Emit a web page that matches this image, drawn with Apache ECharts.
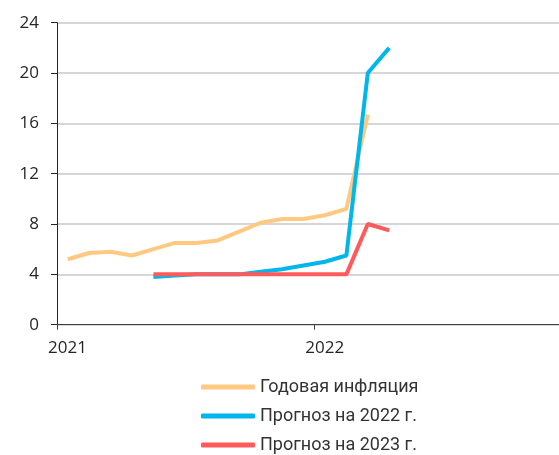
<!DOCTYPE html>
<html>
<head>
<meta charset="utf-8">
<script src="https://cdn.jsdelivr.net/npm/echarts@6/dist/echarts.min.js"></script>
<style>
  html, body { margin: 0; padding: 0; background: #fff; }
  #chart { width: 559px; height: 455px; }
</style>
</head>
<body>
<div id="chart"></div>
<script>
// months counted from Jan 2021 (0), points sit mid-month
var yearLabels = ["2021", "2022"];
var yTicks = [0, 4, 8, 12, 16, 20, 24];

// Jan 2021 .. Mar 2022
var inflationStart = 0;
var inflation = [5.2, 5.7, 5.8, 5.5, 6.0, 6.5, 6.5, 6.7, 7.4, 8.1, 8.4, 8.4, 8.7, 9.2, 16.7];

// May 2021 .. Apr 2022
var forecastStart = 4;
var forecast2022 = [3.8, 3.9, 4.0, 4.0, 4.0, 4.2, 4.4, 4.7, 5.0, 5.5, 20.0, 22.0];
var forecast2023 = [4.0, 4.0, 4.0, 4.0, 4.0, 4.0, 4.0, 4.0, 4.0, 4.0, 8.0, 7.5];

var seriesNames = ["Годовая инфляция", "Прогноз на 2022 г.", "Прогноз на 2023 г."];
var colors = ["#FFC982", "#00B6EB", "#FF5A5C"];

function toPoints(values, start) {
    return values.map(function (v, i) { return [start + i + 0.5, v]; });
}

var myChart = echarts.init(document.getElementById("chart"));

var lineSeries = [
    toPoints(inflation, inflationStart),
    toPoints(forecast2022, forecastStart),
    toPoints(forecast2023, forecastStart)
].map(function (data, k) {
    return {
        name: seriesNames[k],
        type: "line",
        data: data,
        showSymbol: false,
        symbol: "none",
        lineStyle: { color: colors[k], width: 4 },
        itemStyle: { color: colors[k] },
        z: 2 + k
    };
});

var option = {
    animation: false,
    backgroundColor: "#fff",
    grid: { left: 57, right: 0, top: 22.7, bottom: 130.3 },
    xAxis: {
        type: "value",
        min: 0,
        max: 23.42,
        interval: 12,
        axisLine: { show: true, lineStyle: { color: "#404040", width: 1 } },
        axisTick: { show: true, length: 5, lineStyle: { color: "#404040" } },
        splitLine: { show: false },
        axisLabel: {
            margin: 15,
            fontFamily: "Open Sans",
            fontSize: 17,
            color: "#262626",
            padding: [0, 0, 0, 21],
            showMaxLabel: false,
            formatter: function (v) { return yearLabels[v / 12] || ""; }
        }
    },
    yAxis: {
        type: "value",
        min: yTicks[0],
        max: yTicks[yTicks.length - 1],
        interval: 4,
        axisLine: { show: true, lineStyle: { color: "#262626", width: 1 } },
        axisTick: { show: true, length: 6, lineStyle: { color: "#262626" } },
        splitLine: { show: true, lineStyle: { color: "#c8c8c8", width: 1.5 } },
        axisLabel: {
            margin: 18,
            fontFamily: "Open Sans",
            fontSize: 17,
            color: "#262626"
        }
    },
    legend: {
        orient: "vertical",
        left: 201,
        top: 377,
        height: 90,
        padding: 0,
        itemWidth: 54,
        itemHeight: 5,
        itemGap: 9,
        icon: "roundRect",
        data: seriesNames,
        textStyle: {
            fontFamily: "Roboto",
            fontSize: 18,
            lineHeight: 20,
            color: "#333"
        }
    },
    series: lineSeries
};

myChart.setOption(option);
</script>
</body>
</html>
